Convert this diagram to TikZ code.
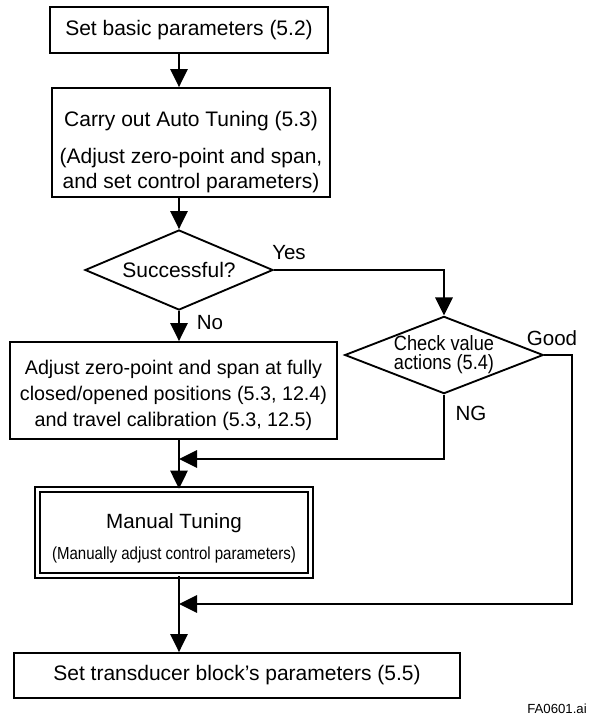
\documentclass[tikz,border=0pt]{standalone}
\usepackage{fontspec}
\setmainfont{Liberation Sans}
\newfontfamily\narrowsf[FakeStretch=0.88]{Liberation Sans}
\newfontfamily\condsf[FakeStretch=0.86]{Liberation Sans}
\usetikzlibrary{arrows.meta,positioning,shapes.geometric,calc}
\tikzset{
  pbox/.style={rectangle, draw, line width=1.4pt, align=center, inner sep=0pt,
               font=\fontsize{15.75}{18.75}\selectfont},
  dbox/.style={diamond, draw, line width=1.4pt, align=center, inner sep=0pt,
               font=\fontsize{15.75}{18.75}\selectfont},
  farr/.style={-{Triangle[length=13.5pt,width=13pt]}, line width=1.4pt},
  flbl/.style={inner sep=0pt, font=\fontsize{15.4}{18}\selectfont},
}
\begin{document}
\begin{tikzpicture}[x=0.75pt, y=-0.75pt]
        \useasboundingbox (0,0) rectangle (590,715);
        \node[pbox, minimum width=208.5pt, minimum height=34.5pt](basic) at (189,30){Set basic parameters (5.2)};
        \node[pbox, minimum width=208.5pt, minimum height=81.75pt](auto) at (191,142.5){\rule{0pt}{26.5pt}Carry out Auto Tuning (5.3)\\[9pt](Adjust zero-point and span,\\and set control parameters)};
        \node[dbox, minimum width=141pt, minimum height=60pt, aspect=2.35](succ) at (179,270){Successful?};
        \node[dbox, minimum width=148.5pt, minimum height=57.75pt, aspect=2.57,
              font=\narrowsf\fontsize{15.5}{14.3}\selectfont](check) at (444,355){Check value\\actions (5.4)};
        \node[pbox, minimum width=245.25pt, minimum height=72.75pt,
              font=\fontsize{14.8}{19.5}\selectfont](adj) at (173.5,390.5){\rule{0pt}{18.3pt}Adjust zero-point and span at fully\\closed/opened positions (5.3, 12.4)\\and travel calibration (5.3, 12.5)};
        \node[pbox, double, line width=1.3pt, double distance=2pt, minimum width=204.75pt, minimum height=64.5pt,
              font=\fontsize{15.45}{23.25}\selectfont](manual) at (174,532.5){\rule{0pt}{19.3pt}Manual Tuning\\{\condsf\fontsize{13.1}{23.25}\selectfont(Manually adjust control parameters)}};
        \node[pbox, minimum width=334.5pt, minimum height=33.75pt](trans) at (237,675.5){Set transducer block’s parameters (5.5)};
        % labels
        \node[flbl](yes) at (289,253){Yes};
        \node[flbl](no) at (210,323){No};
        \node[flbl](ng) at (471,413){NG};
        \node[flbl](good) at (552,338){Good};
        \node[inner sep=0pt, anchor=east, font=\fontsize{9.9}{12}\selectfont](tag) at (587,709){FA0601.ai};
        % joins on the main line
        \coordinate (ngjoin) at (179,459);
        \coordinate (goodturn) at (572,355);
        \coordinate (goodjoin) at (179,604);
        \draw[farr](basic.south -| succ.north)--(auto.north -| succ.north);
        \draw[farr](auto.south -| succ.north)--(succ.north);
        \draw[farr](succ.south)--(adj.north -| succ.south);
        \draw[farr](adj.south -| succ.south)--(manual.north -| succ.south);
        \draw[farr](manual.south -| succ.south)--(trans.north -| succ.south);
        \draw[farr](succ.east) -| (check.north);
        \draw[farr](check.south) |- (ngjoin);
        \draw[farr](check.east)--(goodturn) |- (goodjoin);
    \end{tikzpicture}
\end{document}
